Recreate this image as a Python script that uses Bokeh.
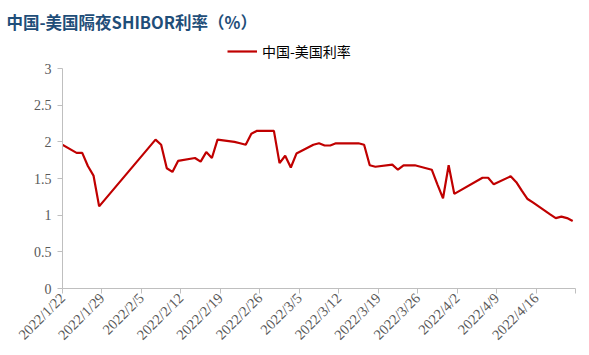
import pandas as pd
from bokeh.plotting import figure
from bokeh.models import Range1d, FixedTicker, Legend, LegendItem
from bokeh.embed import file_html
from bokeh.resources import INLINE

# ---- data ----
dates = ["2022-01-21", "2022-01-24", "2022-01-25", "2022-01-26", "2022-01-27", "2022-01-28",
         "2022-02-07", "2022-02-08", "2022-02-09", "2022-02-10", "2022-02-11",
         "2022-02-14", "2022-02-15", "2022-02-16", "2022-02-17", "2022-02-18",
         "2022-02-21", "2022-02-22", "2022-02-23", "2022-02-24", "2022-02-25",
         "2022-02-28", "2022-03-01", "2022-03-02", "2022-03-03", "2022-03-04",
         "2022-03-07", "2022-03-08", "2022-03-09", "2022-03-10", "2022-03-11",
         "2022-03-14", "2022-03-15", "2022-03-16", "2022-03-17", "2022-03-18",
         "2022-03-21", "2022-03-22", "2022-03-23", "2022-03-24", "2022-03-25",
         "2022-03-28", "2022-03-29", "2022-03-30", "2022-03-31", "2022-04-01",
         "2022-04-06", "2022-04-07", "2022-04-08",
         "2022-04-11", "2022-04-12", "2022-04-13", "2022-04-14", "2022-04-15",
         "2022-04-18", "2022-04-19", "2022-04-20", "2022-04-21", "2022-04-22"]
rates = [1.98, 1.85, 1.85, 1.67, 1.54, 1.12,
         2.03, 1.96, 1.64, 1.59, 1.74,
         1.78, 1.73, 1.86, 1.78, 2.03,
         2.00, 1.98, 1.96, 2.11, 2.15,
         2.15, 1.71, 1.81, 1.65, 1.84,
         1.96, 1.98, 1.95, 1.95, 1.98,
         1.98, 1.98, 1.96, 1.68, 1.66,
         1.69, 1.62, 1.68, 1.68, 1.68,
         1.62, 1.42, 1.23, 1.68, 1.29,
         1.51, 1.51, 1.42,
         1.53, 1.45, 1.33, 1.22, 1.17,
         1.01, 0.96, 0.98, 0.96, 0.92]
tick_labels = ["2022/1/22", "2022/1/29", "2022/2/5", "2022/2/12", "2022/2/19", "2022/2/26",
               "2022/3/5", "2022/3/12", "2022/3/19", "2022/3/26", "2022/4/2", "2022/4/9",
               "2022/4/16", ""]
y_ticks = [0, 0.5, 1, 1.5, 2, 2.5, 3]
y_labels = ["0", "0.5", "1", "1.5", "2", "2.5", "3"]
series_name = "中国-美国利率"
title_text = "中国-美国隔夜SHIBOR利率（%）"

# ---- axis day positions (Excel date axis, points centred in day slot) ----
start = pd.Timestamp("2022-01-22")
xs = [(pd.Timestamp(d) - start).days + 0.5 for d in dates]
x_ticks = [7 * i for i in range(len(tick_labels))]

TOP = 40      # frame top (px); the value axis itself starts 28px lower
# frame extends above the value axis to leave room for the legend
p = figure(width=589, height=355, output_backend="svg", toolbar_location=None,
           x_range=Range1d(0, x_ticks[-1]), y_range=Range1d(0, 3 * (288 - TOP) / 220),
           min_border_left=62, min_border_right=14, min_border_top=TOP, min_border_bottom=67)
p.outline_line_color = None
p.grid.visible = False
p.background_fill_color = "white"
p.border_fill_color = "white"

r = p.line(xs, rates, line_color="#C00000", line_width=2.2)

ax = p.xaxis[0]
ax.ticker = FixedTicker(ticks=x_ticks)
ax.major_label_overrides = {t: l for t, l in zip(x_ticks, tick_labels)}
ax.major_label_orientation = 0.7854
ax.minor_tick_line_color = None
ax.major_tick_in = 0
ax.major_tick_out = 5
ax.axis_line_color = "#BFBFBF"
ax.major_tick_line_color = "#BFBFBF"
ax.major_label_text_font = "Liberation Serif"
ax.major_label_text_font_size = "14.5px"
ax.major_label_text_color = "#595959"
ax.major_label_standoff = 2

ay = p.yaxis[0]
ay.ticker = FixedTicker(ticks=y_ticks)
ay.major_label_overrides = {t: l for t, l in zip(y_ticks, y_labels)}
ay.bounds = (0, 3)
ay.minor_tick_line_color = None
ay.major_tick_in = 0
ay.major_tick_out = 5
ay.axis_line_color = "#BFBFBF"
ay.major_tick_line_color = "#BFBFBF"
ay.major_label_text_font = "Liberation Serif"
ay.major_label_text_font_size = "14px"
ay.major_label_text_color = "#595959"
ay.major_label_standoff = 6

p.title.text = title_text
p.title.text_font = "Noto Sans CJK SC"
p.title.text_font_style = "bold"
p.title.text_font_size = "16.5px"
p.title.text_color = "#1F4E79"
p.title.align = "left"
p.title.offset = -56
p.title.standoff = 14

legend = Legend(items=[LegendItem(label=series_name, renderers=[r])],
                location=(165, 227), orientation="horizontal",
                border_line_color=None, background_fill_alpha=0,
                padding=0, margin=0, spacing=0,
                glyph_width=30, glyph_height=16, label_height=16, label_standoff=5,
                label_text_font="Noto Sans CJK SC", label_text_font_size="14px",
                label_text_color="#000000")
p.add_layout(legend, "center")

open("out.html", "w").write(file_html(p, INLINE))
